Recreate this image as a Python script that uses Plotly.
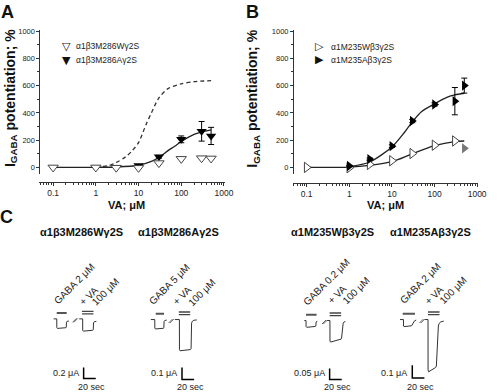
import plotly.graph_objects as go

W, H = 499, 392
FONT = "Liberation Sans, Arial, sans-serif"
INK = "#222222"

# ---------------- Panel A data (VA concentration, % potentiation) ----------------
A_conc_W = [0.1, 1, 3, 10, 30, 100, 300, 500]
A_pot_W = [0, 0, -2, -3, 32, 63, 68, 66]
A_conc_A = [10, 30, 100, 300, 500]
A_pot_A = [14, 78, 206, 265, 231]
A_err_A = [6, 10, 25, 72, 63]
A_fit_conc = [0.1, 1, 3, 10, 20, 30, 50, 70, 100, 200, 300, 500]
A_fit_pot = [0, 1, 3, 16, 45, 73, 125, 155, 190, 243, 260, 275]
A_wt_conc = [1, 2, 3, 5, 7, 10, 15, 20, 30, 50, 100, 200, 500]
A_wt_pot = [3, 14, 35, 78, 120, 182, 315, 400, 510, 580, 613, 629, 636]

# ---------------- Panel B data ----------------
B_conc_W = [0.1, 1, 3, 10, 30, 100, 300]
B_pot_W = [0, -2, 22, 49, 102, 163, 194]
B_fitW_conc = [0.1, 1, 3, 10, 30, 100, 300, 500]
B_fitW_pot = [0, 2, 15, 42, 100, 160, 190, 194]
B_conc_A = [1, 3, 10, 30, 100, 300, 500]
B_pot_A = [10, 61, 156, 340, 462, 486, 600]
B_err_A = [4, 8, 10, 12, 12, 100, 55]
B_fitA_conc = [1, 3, 10, 20, 30, 50, 100, 200, 300, 500]
B_fitA_pot = [5, 40, 150, 260, 333, 410, 466, 515, 532, 544]
B_conc_gray = [500]
B_pot_gray = [140]

X_TICKS = [0.1, 1, 10, 100, 1000]
X_TICKTEXT = ["0.1", "1", "10", "100", "1000"]
Y_TICKS = [0, 200, 400, 600, 800, 1000]

# ---------------- Panel C current traces (time s, current uA) ----------------
C_titles = ["α1β3M286Wγ2S", "α1β3M286Aγ2S", "α1M235Wβ3γ2S", "α1M235Aβ3γ2S"]
C_gaba = ["GABA 2 μM", "GABA 5 μM", "GABA 0.2 μM", "GABA 2 μM"]
C_scale_I = [0.2, 0.1, 0.05, 0.1]
C_scale_I_text = ["0.2 μA", "0.1 μA", "0.05 μA", "0.1 μA"]
C_scale_T = 20

C1_ctrl_t = [7.3, 12.5, 12.6, 13.5, 27.6, 28.2, 28.6, 29.5, 32.5]
C1_ctrl_I = [0, 0, -0.16, -0.175, -0.162, -0.155, -0.06, -0.045, -0.04]
C1_va_t = [49.6, 55.3, 55.4, 56.3, 72.0, 72.8, 73.3, 74.3, 78]
C1_va_I = [0, 0, -0.21, -0.225, -0.209, -0.2, -0.07, -0.055, -0.045]
C1_gaba_t = [12.5, 28.9]
C1_vabar_t = [54.1, 73.2]

C2_ctrl_t = [13.5, 20, 20.1, 21, 34.5, 35.0, 35.4, 36.5, 39.8]
C2_ctrl_I = [0, 0, -0.072, -0.079, -0.073, -0.068, -0.015, -0.008, -0.004]
C2_va_t = [53.2, 60.7, 60.8, 61.8, 79.0, 80.0, 80.8, 82.0, 84.5, 89.4]
C2_va_I = [0, 0, -0.25, -0.262, -0.252, -0.245, -0.03, -0.015, -0.006, -0.003]
C2_gaba_t = [21.6, 35.3]
C2_vabar_t = [59.7, 78.5]

C3_ctrl_t = [15.1, 17.9, 18.0, 19, 33.3, 34.1, 34.6, 35.5, 36.6]
C3_ctrl_I = [0, 0, -0.028, -0.031, -0.027, -0.025, -0.006, -0.004, -0.003]
C3_va_t = [52.5, 57.4, 57.5, 58.5, 75.9, 76.6, 79.3, 80.5, 82.9]
C3_va_I = [0, 0, -0.094, -0.0986, -0.085, -0.081, -0.012, -0.007, -0.0045]
C3_gaba_t = [17.9, 35.3]
C3_vabar_t = [56.9, 75.9]

C4_ctrl_t = [10.6, 16.3, 16.4, 17.3, 29.8, 31.5, 34.6, 37.4]
C4_ctrl_I = [0, 0, -0.05, -0.055, -0.048, -0.035, -0.01, -0.004]
C4_va_t = [51.5, 56.9, 57.0, 57.8, 69.4, 70.7, 74.0, 75.2, 78.0, 82.9]
C4_va_I = [0, 0, -0.39, -0.405, -0.372, -0.36, -0.05, -0.031, -0.018, -0.012]
C4_gaba_t = [15.1, 35.3]
C4_vabar_t = [56.9, 75.9]

C_ctrl_t = [C1_ctrl_t, C2_ctrl_t, C3_ctrl_t, C4_ctrl_t]
C_ctrl_I = [C1_ctrl_I, C2_ctrl_I, C3_ctrl_I, C4_ctrl_I]
C_va_t = [C1_va_t, C2_va_t, C3_va_t, C4_va_t]
C_va_I = [C1_va_I, C2_va_I, C3_va_I, C4_va_I]
C_gaba_t = [C1_gaba_t, C2_gaba_t, C3_gaba_t, C4_gaba_t]
C_vabar_t = [C1_vabar_t, C2_vabar_t, C3_vabar_t, C4_vabar_t]
C_break_t = [41.8, 46.0, 47.6, 46.0]
C_scale_t = [56.9, 65.0, 56.9, 30.9]

# ---------------- layout geometry (pixels) ----------------
def fx(p):
    return p / W

def fy(p):
    return 1 - p / H

PX_PER_S = 0.615
# group: (x origin px, baseline px, px per uA, scale-bar top px)
C_geom = [(50, 318.3, 55, 367.3), (145, 319, 120, 367.3),
          (300, 320, 220, 368.3), (400, 319, 130, 365)]

fig = go.Figure()

line_common = dict(hoverinfo="skip", showlegend=False)

# Panel A
fig.add_trace(go.Scatter(x=A_wt_conc, y=A_wt_pot, mode="lines", xaxis="x", yaxis="y",
                         line=dict(color="#333333", width=1.3, dash="4px,3px", shape="spline", smoothing=0.8),
                         **line_common))
fig.add_trace(go.Scatter(x=A_fit_conc, y=A_fit_pot, mode="lines", xaxis="x", yaxis="y",
                         line=dict(color=INK, width=1.3, shape="spline", smoothing=0.8), **line_common))
fig.add_trace(go.Scatter(x=A_conc_A, y=A_pot_A, mode="markers", xaxis="x", yaxis="y",
                         marker=dict(symbol="triangle-down", size=9, color="black"),
                         error_y=dict(type="data", array=A_err_A, thickness=1, width=3, color="black"),
                         **line_common))
fig.add_trace(go.Scatter(x=A_conc_W, y=A_pot_W, mode="markers", xaxis="x", yaxis="y",
                         marker=dict(symbol="triangle-down", size=9, color="white",
                                     line=dict(color="#444444", width=1)), **line_common))

# Panel B
fig.add_trace(go.Scatter(x=B_fitW_conc, y=B_fitW_pot, mode="lines", xaxis="x2", yaxis="y2",
                         line=dict(color=INK, width=1.3, shape="spline", smoothing=0.8), **line_common))
fig.add_trace(go.Scatter(x=B_fitA_conc, y=B_fitA_pot, mode="lines", xaxis="x2", yaxis="y2",
                         line=dict(color=INK, width=1.3, shape="spline", smoothing=0.8), **line_common))
fig.add_trace(go.Scatter(x=B_conc_W, y=B_pot_W, mode="markers", xaxis="x2", yaxis="y2",
                         marker=dict(symbol="triangle-right", size=9, color="white",
                                     line=dict(color="#444444", width=1)), **line_common))
fig.add_trace(go.Scatter(x=B_conc_A, y=B_pot_A, mode="markers", xaxis="x2", yaxis="y2",
                         marker=dict(symbol="triangle-right", size=9, color="black"),
                         error_y=dict(type="data", array=B_err_A, thickness=1, width=3, color="black"),
                         **line_common))
fig.add_trace(go.Scatter(x=B_conc_gray, y=B_pot_gray, mode="markers", xaxis="x2", yaxis="y2",
                         marker=dict(symbol="triangle-right", size=9, color="#777777"), **line_common))

# Panel C
annotations = []
layout_axes = {}
for i in range(4):
    x0, y0, ppu, sc_top = C_geom[i]
    xa = "x%d" % (i + 3)
    ya = "y%d" % (i + 3)
    span_px = 90
    top_px, bot_px = 300, 392
    layout_axes["xaxis%d" % (i + 3)] = dict(domain=[fx(x0), fx(x0 + span_px)],
                                             range=[0, span_px / PX_PER_S], visible=False,
                                             anchor=ya, fixedrange=True)
    layout_axes["yaxis%d" % (i + 3)] = dict(domain=[fy(bot_px), fy(top_px)],
                                             range=[-(bot_px - y0) / ppu, (y0 - top_px) / ppu],
                                             visible=False, anchor=xa, fixedrange=True)
    tr = dict(xaxis=xa, yaxis=ya, mode="lines", **line_common)
    fig.add_trace(go.Scatter(x=C_ctrl_t[i], y=C_ctrl_I[i], line=dict(color="#333333", width=1), **tr))
    fig.add_trace(go.Scatter(x=C_va_t[i], y=C_va_I[i], line=dict(color="#333333", width=1), **tr))
    # application bars
    gb = 5.8 / ppu
    fig.add_trace(go.Scatter(x=C_gaba_t[i], y=[gb, gb], line=dict(color="#555555", width=2), **tr))
    for off in (7.6, 5.0):
        v = off / ppu
        fig.add_trace(go.Scatter(x=C_vabar_t[i], y=[v, v], line=dict(color="#444444", width=1.3), **tr))
    # break mark
    bt = C_break_t[i]
    fig.add_trace(go.Scatter(x=[bt, bt + 2.2], y=[-1.5 / ppu, -1.5 / ppu], xaxis=xa, yaxis=ya, mode="markers",
                             marker=dict(symbol="line-ne", size=4, line=dict(color="#666666", width=1)),
                             **line_common))
    # scale bar
    st = C_scale_t[i]
    itop = -(sc_top - y0) / ppu
    ibot = itop - C_scale_I[i]
    fig.add_trace(go.Scatter(x=[st, st, st + C_scale_T], y=[itop, ibot, ibot],
                             line=dict(color="black", width=1.5), **tr))

    # texts
    ann_font = dict(family=FONT, size=9, color="#222222")
    sx = x0 + st * PX_PER_S
    annotations.append(dict(x=fx(sx - 3), y=fy(373), xref="paper", yref="paper", text=C_scale_I_text[i],
                            showarrow=False, xanchor="right", yanchor="middle", font=ann_font))
    annotations.append(dict(x=fx(sx + C_scale_T * PX_PER_S / 2 + 2), y=fy(386.5), xref="paper", yref="paper",
                            text="20 sec", showarrow=False, xanchor="center", yanchor="middle", font=ann_font))

C_title_x = [83, 181, 337.5, 437.5]
C_gaba_xy = [(75.7, 282.7), (171.7, 283.3), (332.3, 280.7), (426.7, 282.3)]
C_plus_xy = [(90.7, 295), (185, 294.3), (342.3, 293.3), (440.7, 294.3)]
C_100_xy = [(107.7, 291.2), (205, 291.7), (361.7, 289.3), (460, 289.3)]
for i in range(4):
    annotations.append(dict(x=fx(C_title_x[i]), y=fy(231), xref="paper", yref="paper", text="<b>%s</b>" % C_titles[i],
                            showarrow=False, xanchor="center", yanchor="middle",
                            font=dict(family=FONT, size=11, color="#111111")))
    rf = dict(family=FONT, size=10, color="#222222")
    for (px, py), txt in ((C_gaba_xy[i], C_gaba[i]), (C_plus_xy[i], "+ VA"), (C_100_xy[i], "100 μM")):
        annotations.append(dict(x=fx(px), y=fy(py), xref="paper", yref="paper", text=txt, textangle=-45,
                                showarrow=False, xanchor="center", yanchor="middle", font=rf))

# Panel letters
for lab, px, py in (("A", 8, 9), ("B", 257, 9), ("C", 7, 216)):
    annotations.append(dict(x=fx(px), y=fy(py), xref="paper", yref="paper", text="<b>%s</b>" % lab,
                            showarrow=False, xanchor="center", yanchor="middle",
                            font=dict(family=FONT, size=18, color="#111111")))

# axis titles
ytitle = "<b>I<sub>GABA</sub> potentiation; %</b>"
for px in (11, 257.5):
    annotations.append(dict(x=fx(px), y=fy(96), xref="paper", yref="paper", text=ytitle, textangle=-90,
                            showarrow=False, xanchor="center", yanchor="middle",
                            font=dict(family=FONT, size=14, color="#111111")))
for px in (129, 392):
    annotations.append(dict(x=fx(px), y=fy(204), xref="paper", yref="paper", text="<b>VA; μM</b>",
                            showarrow=False, xanchor="center", yanchor="middle",
                            font=dict(family=FONT, size=11, color="#111111")))

# legends
LEG = [("▽", "α1β3M286Wγ2S", 67.5, 43.5, 75), ("▼", "α1β3M286Aγ2S", 67.5, 57.5, 75),
       ("▷", "α1M235Wβ3γ2S", 325, 44, 334), ("▶", "α1M235Aβ3γ2S", 325, 57, 334)]
for sym, txt, mx, my, tx in LEG:
    annotations.append(dict(x=fx(mx), y=fy(my), xref="paper", yref="paper", text=sym, showarrow=False,
                            xanchor="center", yanchor="middle",
                            font=dict(family="DejaVu Sans", size=11, color="#111111")))
    annotations.append(dict(x=fx(tx), y=fy(my), xref="paper", yref="paper", text=txt, showarrow=False,
                            xanchor="left", yanchor="middle",
                            font=dict(family=FONT, size=8.5, color="#222222")))

minor_vals = [m * 10.0 ** e for e in range(-2, 3) for m in range(2, 10)]
minor_vals = [v for v in minor_vals if 0.048 < v < 1000]

def xaxis_cfg(left, right, ypos):
    return dict(type="log", range=[-1.32, 3.03], domain=[fx(left), fx(right)], anchor="free",
                position=fy(ypos), showline=True, linecolor="#333333", linewidth=1,
                ticks="outside", ticklen=3, tickcolor="#333333", tickvals=X_TICKS, ticktext=X_TICKTEXT,
                tickfont=dict(family=FONT, size=8.5, color="#222222"), showgrid=False, zeroline=False,
                minor=dict(ticks="outside", ticklen=2, tickcolor="#333333", tickmode="array",
                           tickvals=minor_vals, showgrid=False), fixedrange=True)

def yaxis_cfg(xleft):
    return dict(range=[-45, 1010], domain=[fy(165.7 + 45 * 0.1374), fy(165.7 - 1010 * 0.1374)],
                anchor="free", position=fx(xleft), showline=True, linecolor="#333333", linewidth=1,
                ticks="outside", ticklen=3, tickcolor="#333333", tickvals=Y_TICKS,
                tickfont=dict(family=FONT, size=7.5, color="#222222"), showgrid=False, zeroline=False,
                minor=dict(ticks="outside", ticklen=2, tickcolor="#333333", dtick=100, showgrid=False),
                fixedrange=True)

fig.update_layout(
    width=W, height=H, autosize=False,
    margin=dict(l=0, r=0, t=0, b=0),
    paper_bgcolor="white", plot_bgcolor="rgba(0,0,0,0)",
    showlegend=False,
    xaxis=xaxis_cfg(40.1, 228.9, 180),
    yaxis=yaxis_cfg(40.1),
    xaxis2=xaxis_cfg(297.8, 486.2, 181.5),
    yaxis2=yaxis_cfg(297.8),
    annotations=annotations,
    **layout_axes,
)

fig.write_html("out.html", config={"displayModeBar": False},
               post_script="document.body.style.margin='0px';")
